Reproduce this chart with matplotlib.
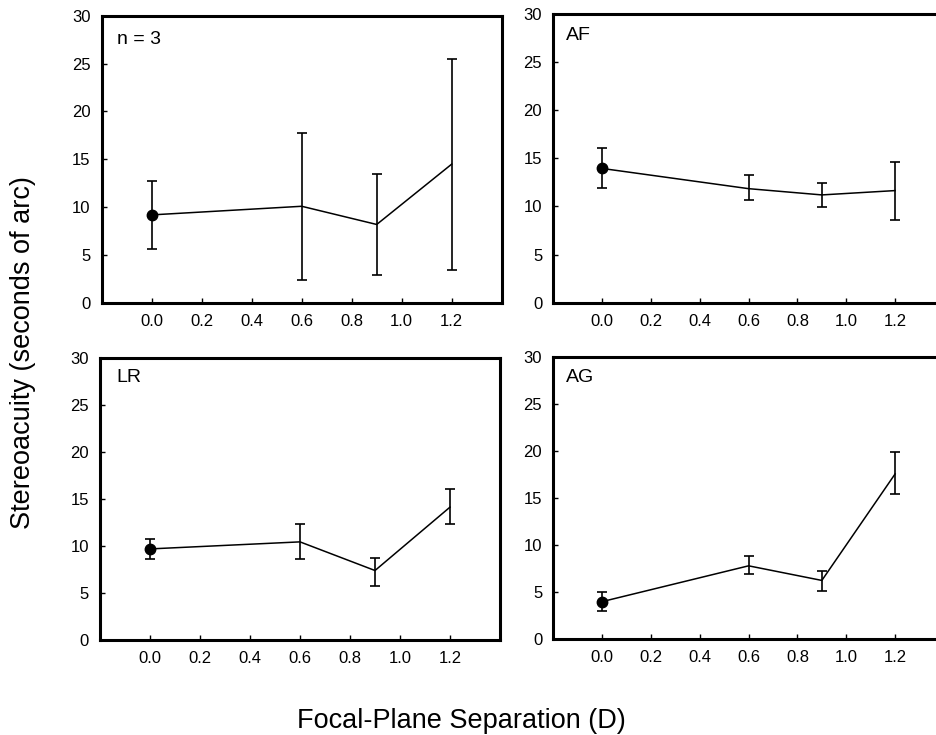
import matplotlib
matplotlib.use("Agg")
import matplotlib.pyplot as plt
import numpy as np

plt.rcParams['font.family'] = ['Liberation Sans', 'DejaVu Sans']

# Data
separation = [0.0, 0.6, 0.9, 1.2]
panel_labels = ["n = 3", "AF", "LR", "AG"]

mean_n3 = [9.2, 10.1, 8.2, 14.5]
upper_n3 = [12.7, 17.8, 13.45, 25.5]
lower_n3 = [5.6, 2.4, 2.9, 3.45]

mean_af = [13.95, 11.85, 11.2, 11.65]
upper_af = [16.05, 13.3, 12.4, 14.65]
lower_af = [11.95, 10.65, 9.95, 8.6]

mean_lr = [9.7, 10.45, 7.4, 14.15]
upper_lr = [10.75, 12.4, 8.75, 16.1]
lower_lr = [8.65, 8.65, 5.8, 12.4]

mean_ag = [4.0, 7.8, 6.25, 17.55]
upper_ag = [5.05, 8.85, 7.25, 19.85]
lower_ag = [3.05, 6.9, 5.1, 15.45]

x_ticks = [0.0, 0.2, 0.4, 0.6, 0.8, 1.0, 1.2]
x_ticklabels = ["0.0", "0.2", "0.4", "0.6", "0.8", "1.0", "1.2"]
y_ticks = [0, 5, 10, 15, 20, 25, 30]

series = [
    (mean_n3, upper_n3, lower_n3),
    (mean_af, upper_af, lower_af),
    (mean_lr, upper_lr, lower_lr),
    (mean_ag, upper_ag, lower_ag),
]

fig = plt.figure(figsize=(9.36, 7.35), dpi=100)

W, H = 936.0, 735.0
# (left px, top px, right px, bottom px)
boxes = [
    (101.7, 15.7, 501.7, 303.0),
    (553.3, 14.0, 943.9, 302.7),
    (100.0, 358.3, 500.0, 640.0),
    (553.3, 356.7, 943.9, 639.3),
]
label_pos = [(0.038, 0.916), (0.032, 0.927), (0.042, 0.931), (0.032, 0.926)]

for i, (box, (m, up, lo)) in enumerate(zip(boxes, series)):
    l, t, r, b = box
    ax = fig.add_axes([l / W, 1 - b / H, (r - l) / W, (b - t) / H])
    m = np.array(m); up = np.array(up); lo = np.array(lo)
    yerr = np.vstack([m - lo, up - m])
    ax.errorbar(separation, m, yerr=yerr, color='black', lw=1.1,
                elinewidth=1.2, capsize=3.3, capthick=1.2, zorder=3)
    ax.plot(separation[0], m[0], 'o', color='black', markersize=7.5, zorder=4)
    ax.set_xlim(-0.2, 1.4)
    ax.set_ylim(0, 30)
    ax.set_xticks(x_ticks)
    ax.set_xticklabels(x_ticklabels)
    ax.set_yticks(y_ticks)
    for s in ax.spines.values():
        s.set_linewidth(2.2)
    ax.tick_params(direction='in', length=3.5, width=1.0, labelsize=12, pad=8)
    ax.text(label_pos[i][0], label_pos[i][1], panel_labels[i],
            transform=ax.transAxes, fontsize=14, ha='left', va='center')

fig.text(23 / W, 1 - 353 / H, "Stereoacuity (seconds of arc)", rotation=90,
         fontsize=19.5, ha='center', va='center')
fig.text(461.5 / W, 1 - 728 / H, "Focal-Plane Separation (D)",
         fontsize=19.5, ha='center', va='baseline')

fig.savefig("out.png", dpi=100)
